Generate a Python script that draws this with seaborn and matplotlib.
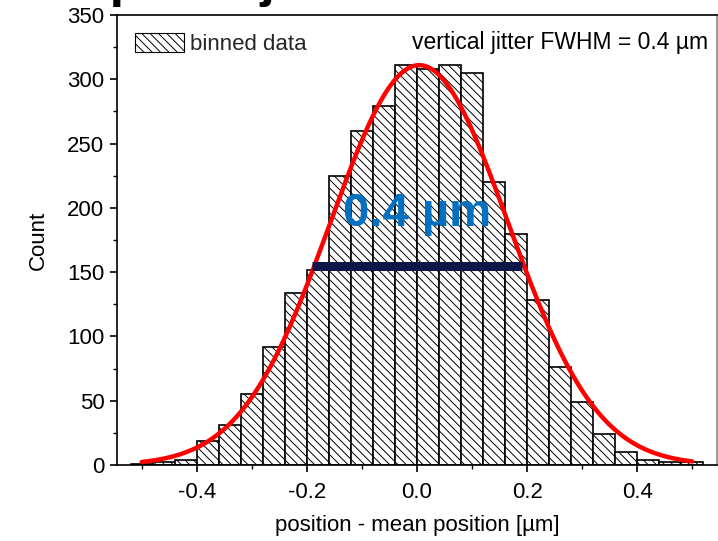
import numpy as np
import pandas as pd
import matplotlib
matplotlib.use("Agg")
import matplotlib.pyplot as plt
from matplotlib.patches import Patch
from matplotlib.ticker import MultipleLocator
import seaborn as sns

# ---- data ----
bin_edges = [-0.52, -0.48, -0.44, -0.40, -0.36, -0.32, -0.28, -0.24, -0.20,
             -0.16, -0.12, -0.08, -0.04, 0.00, 0.04, 0.08, 0.12, 0.16, 0.20,
             0.24, 0.28, 0.32, 0.36, 0.40, 0.44, 0.48, 0.52]
counts = [1, 2, 4, 19, 31, 55, 92, 134, 152, 225, 260, 279, 311,
          308, 311, 305, 220, 180, 128, 76, 49, 24, 10, 4, 2, 2]

# Gaussian fit parameters
fit_amplitude = 311.0
fit_center = 0.004
fit_fwhm = 0.38
fit_range = [-0.50, 0.50]

fwhm_bar_x = [-0.19, 0.19]
fwhm_bar_level = 155.0
fwhm_label = "0.4 µm"
legend_label = "binned data"
info_label = "vertical jitter FWHM = 0.4 µm"
x_label = "position - mean position [µm]"
y_label = "Count"
title_text = "Spatial jitter"

x_ticks = [-0.4, -0.2, 0.0, 0.2, 0.4]
y_ticks = [0, 50, 100, 150, 200, 250, 300, 350]

# ---- build data frames ----
centers = [(a + b) / 2 for a, b in zip(bin_edges[:-1], bin_edges[1:])]
hist_df = pd.DataFrame({"position": centers, "count": counts})

xs = np.linspace(fit_range[0], fit_range[1], 400)
sigma = fit_fwhm / (2 * np.sqrt(2 * np.log(2)))
fit_df = pd.DataFrame({"position": xs,
                       "count": fit_amplitude * np.exp(-(xs - fit_center) ** 2 / (2 * sigma ** 2))})

sns.set_theme(style="white")
plt.rcParams["font.family"] = ["Liberation Sans", "DejaVu Sans"]
plt.rcParams["hatch.linewidth"] = 0.7

FS = 16

fig = plt.figure(figsize=(7.18, 5.41), dpi=100)
ax = fig.add_axes([117 / 718, 76 / 541, 600 / 718, 450 / 541])

hatch = "\\" * 4
sns.histplot(data=hist_df, x="position", weights="count", bins=bin_edges,
             stat="count", element="bars", fill=True, color="white",
             edgecolor="black", linewidth=1.2, alpha=1, ax=ax)
for p in ax.patches:
    p.set_facecolor("white")
    p.set_edgecolor("black")
    p.set_hatch(hatch)

sns.lineplot(data=fit_df, x="position", y="count", color="#ff0000",
             linewidth=3.2, ax=ax)

ax.plot(fwhm_bar_x, [fwhm_bar_level] * 2, color="#0e1647", linewidth=6.5,
        solid_capstyle="butt", zorder=5)
ax.text(0.0, 186, fwhm_label, color="#0070c0", fontsize=34, fontweight="bold",
        ha="center", va="baseline", zorder=6)

ax.set_xlim(-0.545, 0.545)
ax.set_ylim(0, 350)
ax.set_xticks(x_ticks)
ax.set_xticklabels([f"{t:.1f}" for t in x_ticks])
ax.set_yticks(y_ticks)
ax.xaxis.set_minor_locator(MultipleLocator(0.1))
ax.yaxis.set_minor_locator(MultipleLocator(25))
ax.tick_params(axis="both", which="major", direction="out", length=5, width=1.2,
               labelsize=FS, color="black", labelcolor="black", pad=4,
               bottom=True, left=True, top=False, right=False)
ax.tick_params(axis="x", which="major", pad=7)
ax.tick_params(axis="both", which="minor", direction="out", length=3, width=1.0,
               color="black", bottom=True, left=True, top=False, right=False)
for side in ["left", "bottom", "top", "right"]:
    ax.spines[side].set_visible(True)
    ax.spines[side].set_color("black")
    ax.spines[side].set_linewidth(1.2)
ax.spines["right"].set_color("#888888")

ax.set_xlabel(x_label, fontsize=FS, color="black", labelpad=9)
ax.set_ylabel(y_label, fontsize=FS, color="black", labelpad=13)

leg_handle = Patch(facecolor="white", edgecolor="black", hatch=hatch, linewidth=0.8)
ax.legend(handles=[leg_handle], labels=[legend_label], loc="upper left",
          frameon=False, fontsize=FS, handlelength=2.2, handleheight=0.95,
          borderaxespad=0.4, handletextpad=0.3, bbox_to_anchor=(0.0, 1.0))
ax.text(0.985, 0.94, info_label, transform=ax.transAxes, ha="right", va="center",
        fontsize=16.5, color="black")

fig.text(75 / 718, 1.0074, title_text, fontsize=37.5, fontweight="bold",
         color="black", ha="left", va="baseline")

fig.savefig("out.png", dpi=100)
